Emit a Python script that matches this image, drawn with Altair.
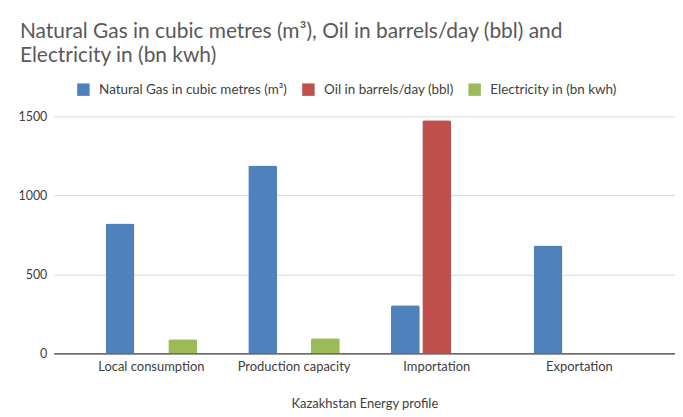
import altair as alt
import pandas as pd

categories = ["Local consumption", "Production capacity", "Importation", "Exportation"]
series = ["Natural Gas in cubic metres (m³)", "Oil in barrels/day (bbl)", "Electricity in (bn kwh)"]
gas = [822, 1190, 304, 683]
oil = [None, None, 1475, None]
electricity = [89, 95, None, None]
colors = ["#4F81BD", "#C0504D", "#9BBB59"]
y_ticks = [0, 500, 1000, 1500]

rows = []
for i, c in enumerate(categories):
    for s, vals in zip(series, [gas, oil, electricity]):
        if vals[i] is not None:
            rows.append({"category": c, "series": s, "value": vals[i]})
df = pd.DataFrame(rows)

FONT = "Lato"

chart = alt.Chart(df).mark_bar(cornerRadiusTopLeft=2, cornerRadiusTopRight=2).encode(
    x=alt.X("category:N", sort=categories, title="Kazakhstan Energy profile",
            scale=alt.Scale(paddingInner=0, paddingOuter=0.1769, align=0.52),
            axis=alt.Axis(labelAngle=0, ticks=False, grid=False, domainColor="#404040",
                          domainWidth=1.2, labelColor="#404040", labelFontSize=13,
                          labelPadding=7, titleColor="#404040", titleFontSize=13,
                          titlePadding=24, titleFontWeight="normal")),
    xOffset=alt.XOffset("series:N", sort=series,
                        scale=alt.Scale(domain=series, paddingInner=0.08, paddingOuter=0.815)),
    y=alt.Y("value:Q", scale=alt.Scale(domain=[0, 1500]), title=None,
            axis=alt.Axis(values=y_ticks, format="d", ticks=False, domain=False,
                          gridColor="#d9d9d9", labelColor="#404040", labelFontSize=12.5,
                          labelPadding=7)),
    color=alt.Color("series:N", scale=alt.Scale(domain=series, range=colors),
                    legend=alt.Legend(title=None, orient="none", legendX=23, legendY=-34,
                                      direction="horizontal", columns=3, symbolType="square",
                                      symbolSize=156, symbolStrokeWidth=0, labelFontSize=13.5,
                                      labelColor="#404040", columnPadding=14, labelOffset=9,
                                      labelLimit=400)),
).properties(
    width=624, height=238,
    title=alt.TitleParams(["Natural Gas in cubic metres (m³), Oil in barrels/day (bbl) and",
                           "Electricity in (bn kwh)"],
                          anchor="start", frame="bounds", fontSize=21, color="#595959",
                          fontWeight="normal", lineHeight=24, offset=17, dx=2),
    padding={"left": 10, "top": 12, "right": 0, "bottom": 0},
).configure(font=FONT).configure_view(stroke=None)

chart.save("out.html", embed_options={"renderer": "svg", "actions": False})
